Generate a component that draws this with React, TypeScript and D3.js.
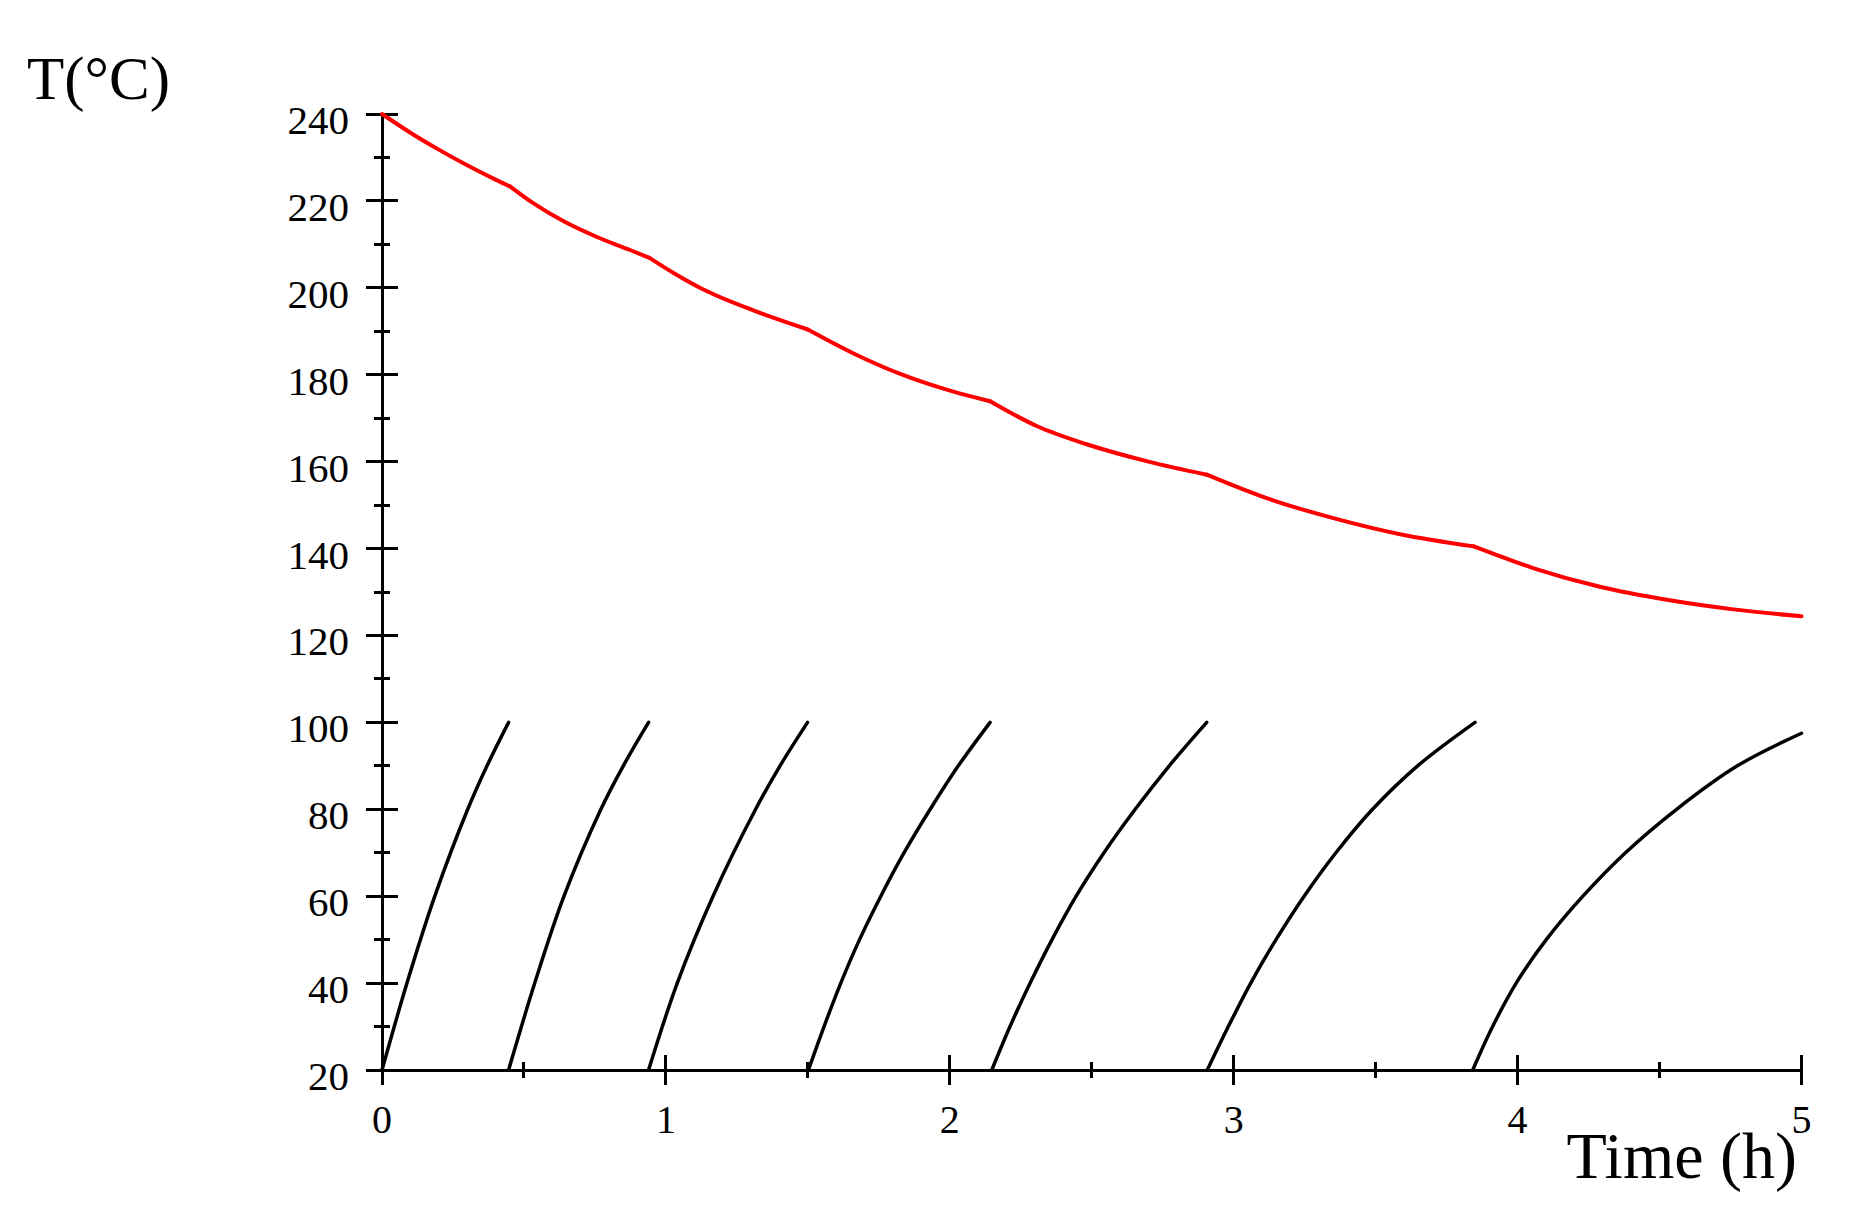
import React from 'react';
import * as d3 from 'd3';

// tick values
const yMajorTicks = [20, 40, 60, 80, 100, 120, 140, 160, 180, 200, 220, 240];
const yMinorTicks = [30, 50, 70, 90, 110, 130, 150, 170, 190, 210, 230];
const xMajorTicks = [0, 1, 2, 3, 4, 5];
const xMinorTicks = [0.5, 1.5, 2.5, 3.5, 4.5];

// oven temperature (red), one array per segment between loads: [time h, T °C]
const ovenSeg1 = [[0, 240], [0.1, 235.7], [0.2, 231.8], [0.3, 228.2], [0.4, 224.9], [0.452, 223.3]];
const ovenSeg2 = [[0.452, 223.3], [0.53, 219.6], [0.64, 215.3], [0.757, 211.7], [0.874, 208.7], [0.942, 206.9]];
const ovenSeg3 = [[0.942, 206.9], [1.03, 203.3], [1.132, 199.6], [1.308, 194.8], [1.5, 190.4]];
const ovenSeg4 = [[1.5, 190.4], [1.661, 184.9], [1.837, 179.9], [2.013, 176.1], [2.142, 173.9]];
const ovenSeg5 = [[2.142, 173.9], [2.306, 168.2], [2.482, 164.0], [2.7, 160.0], [2.905, 157.0]];
const ovenSeg6 = [[2.905, 157.0], [3.116, 151.6], [3.351, 147.0], [3.586, 143.3], [3.846, 140.5]];
const ovenSeg7 = [[3.846, 140.5], [4.06, 135.4], [4.29, 131.2], [4.525, 128.2], [4.76, 126.0], [5, 124.4]];

// load temperatures (black): [time h, T °C]
const load1 = [[0, 20], [0.088, 40], [0.186, 60], [0.302, 80], [0.37, 90], [0.446, 100]];
const load2 = [[0.446, 20], [0.538, 40], [0.641, 60], [0.771, 80], [0.85, 90], [0.939, 100]];
const load3 = [[0.939, 20], [1.04, 40], [1.166, 60], [1.316, 80], [1.402, 90], [1.499, 100]];
const load4 = [[1.502, 20], [1.557, 30], [1.616, 40], [1.682, 50], [1.757, 60], [1.839, 70], [1.931, 80], [2.03, 90], [2.142, 100]];
const load5 = [[2.148, 20], [2.212, 30], [2.283, 40], [2.36, 50], [2.445, 60], [2.543, 70], [2.653, 80], [2.773, 90], [2.905, 100]];
const load6 = [[2.907, 20], [2.981, 30], [3.06, 40], [3.149, 50], [3.248, 60], [3.36, 70], [3.489, 80], [3.648, 90], [3.85, 100]];
const load7 = [[3.842, 20], [3.912, 30], [3.995, 40], [4.101, 50], [4.23, 60], [4.38, 70], [4.56, 80], [4.774, 90], [5, 97.5]];

const ovenSegments = [ovenSeg1, ovenSeg2, ovenSeg3, ovenSeg4, ovenSeg5, ovenSeg6, ovenSeg7];
const loads = [load1, load2, load3, load4, load5, load6, load7];

const W = 1852;
const H = 1228;
const font = '"Liberation Serif", "Times New Roman", serif';

export default function App() {
  const x = d3.scaleLinear().domain([0, 5]).range([382, 1801.5]);
  const y = d3.scaleLinear().domain([20, 240]).range([1070, 114]);

  const ovenLine = d3
    .line<number[]>()
    .x((d) => x(d[0]))
    .y((d) => y(d[1]))
    .curve(d3.curveMonotoneX);

  const loadLine = d3
    .line<number[]>()
    .x((d) => x(d[0]))
    .y((d) => y(d[1]))
    .curve(d3.curveCatmullRom.alpha(0.5));

  const x0 = x(0);
  const y0 = y(20);

  return (
    <div style={{ position: 'absolute', left: 0, top: 0, background: 'white' }}>
      <svg width={W} height={H} style={{ display: 'block' }}>
        <rect width={W} height={H} fill="white" />

        {/* axes */}
        <g stroke="black" strokeWidth={3} shapeRendering="crispEdges">
          <line x1={x0} x2={x0} y1={y(240)} y2={y0} />
          <line x1={x0} x2={x(5)} y1={y0} y2={y0} />
          {yMajorTicks.map((v) => (
            <line key={'ym' + v} x1={x0 - 16} x2={x0 + 16} y1={y(v)} y2={y(v)} />
          ))}
          {yMinorTicks.map((v) => (
            <line key={'yn' + v} x1={x0 - 8} x2={x0 + 8} y1={y(v)} y2={y(v)} />
          ))}
          {xMajorTicks.map((v) => (
            <line key={'xm' + v} x1={x(v)} x2={x(v)} y1={y0 - 15} y2={y0 + 15} />
          ))}
          {xMinorTicks.map((v) => (
            <line key={'xn' + v} x1={x(v)} x2={x(v)} y1={y0 - 8} y2={y0 + 8} />
          ))}
        </g>

        {yMajorTicks.map((v) => (
          <text key={'yl' + v} x={349} y={y(v) + 20} textAnchor="end" fontFamily={font} fontSize={41}>
            {v}
          </text>
        ))}
        {xMajorTicks.map((v) => (
          <text key={'xl' + v} x={x(v)} y={1133} textAnchor="middle" fontFamily={font} fontSize={40}>
            {v}
          </text>
        ))}

        {/* load curves */}
        {loads.map((d, i) => (
          <path key={'l' + i} d={loadLine(d) || ''} fill="none" stroke="black" strokeWidth={3.5} strokeLinecap="round" />
        ))}

        {/* oven curve */}
        {ovenSegments.map((d, i) => (
          <path key={'o' + i} d={ovenLine(d) || ''} fill="none" stroke="#ff0000" strokeWidth={4} strokeLinecap="round" strokeLinejoin="round" />
        ))}

        {/* axis titles */}
        <text x={27} y={99} fontFamily={font} fontSize={61}>
          T(°C)
        </text>
        <text x={1797} y={1178} textAnchor="end" fontFamily={font} fontSize={66}>
          Time (h)
        </text>
      </svg>
    </div>
  );
}
